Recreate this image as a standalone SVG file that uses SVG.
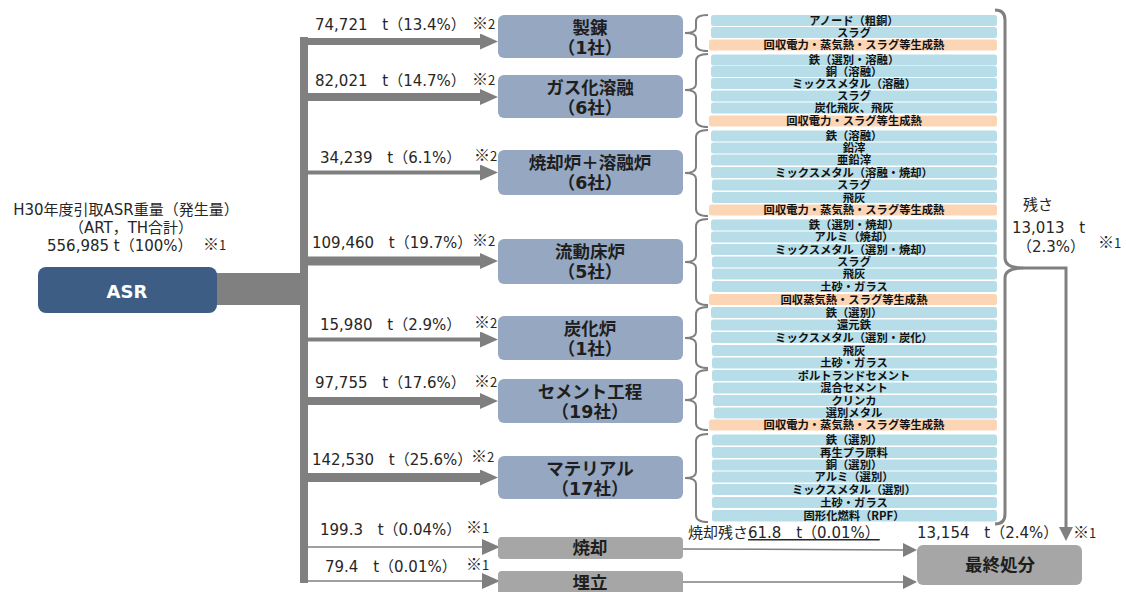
<svg xmlns="http://www.w3.org/2000/svg" width="1126" height="592" viewBox="0 0 1126 592">
<defs>
<marker id="ah" viewBox="0 0 18 16" markerWidth="18" markerHeight="16" refX="0" refY="8" orient="auto" markerUnits="userSpaceOnUse"><path d="M0,0 L18,8 L0,16 Z" fill="#7f7f7f"/></marker>
<marker id="ahs" viewBox="0 0 14 14" markerWidth="14" markerHeight="14" refX="0" refY="7" orient="auto" markerUnits="userSpaceOnUse"><path d="M0,0 L14,7 L0,14 Z" fill="#7f7f7f"/></marker>
</defs>
<style>
text{font-family:"DejaVu Sans","Noto Sans CJK JP",sans-serif}
.lbl{font-size:15px;fill:#262626;word-spacing:10px}
.lt{font-size:15px;fill:#262626}
.note{font-family:"Noto Sans CJK JP",sans-serif;font-size:16px;fill:#262626}
.nd{font-size:13px}
.box{fill:#95a7c1}
.gbox{fill:#a6a6a6}
.bt{font-weight:bold;font-size:17.5px;fill:#1e1e1e;text-anchor:middle}
.rb{fill:#b7dee8}
.ro{fill:#fcd5b5}
.rt{font-family:"Noto Sans CJK JP",sans-serif;font-weight:bold;font-size:11.3px;text-anchor:middle;fill:#111}
.br{fill:none;stroke:#808080;stroke-width:2}
.sh{stroke:#7f7f7f;fill:none}
</style>
<rect width="1126" height="592" fill="#ffffff"/>

<g id="connectors">
<rect x="215" y="273" width="90" height="32" fill="#808080"/>
<rect x="300" y="37" width="8" height="546" fill="#808080"/>
<line class="sh" x1="306" y1="41.5" x2="480" y2="41.5" stroke-width="7" marker-end="url(#ah)"/>
<line class="sh" x1="306" y1="97" x2="480" y2="97" stroke-width="8" marker-end="url(#ah)"/>
<line class="sh" x1="306" y1="172.5" x2="480" y2="172.5" stroke-width="4" marker-end="url(#ah)"/>
<line class="sh" x1="306" y1="261" x2="480" y2="261" stroke-width="9" marker-end="url(#ah)"/>
<line class="sh" x1="306" y1="339.5" x2="480" y2="339.5" stroke-width="4" marker-end="url(#ah)"/>
<line class="sh" x1="306" y1="401" x2="480" y2="401" stroke-width="8" marker-end="url(#ah)"/>
<line class="sh" x1="306" y1="477.5" x2="480" y2="477.5" stroke-width="9" marker-end="url(#ah)"/>
<line class="sh" x1="306" y1="547" x2="482" y2="547" stroke-width="1.5" marker-end="url(#ah)"/>
<line class="sh" x1="306" y1="581" x2="482" y2="581" stroke-width="1.5" marker-end="url(#ah)"/>
<line class="sh" x1="683" y1="549" x2="903" y2="550" stroke-width="1.5" marker-end="url(#ahs)"/>
<line class="sh" x1="683" y1="582" x2="903" y2="582" stroke-width="1.5" marker-end="url(#ahs)"/>
<path class="br" d="M708,15 Q696,15 696,21 L696,28 Q696,33 685,33 Q696,33 696,38 L696,45 Q696,51 708,51"/>
<path class="br" d="M708,54 Q696,54 696,61 L696,84 Q696,90 685,90 Q696,90 696,96 L696,120 Q696,127 708,127"/>
<path class="br" d="M708,130 Q696,130 696,137 L696,167 Q696,173 685,173 Q696,173 696,179 L696,209 Q696,216 708,216"/>
<path class="br" d="M708,219 Q696,219 696,226 L696,256 Q696,262 685,262 Q696,262 696,268 L696,298 Q696,305 708,305"/>
<path class="br" d="M708,307 Q696,307 696,314 L696,332 Q696,338 685,338 Q696,338 696,344 L696,361 Q696,368 708,368"/>
<path class="br" d="M708,370 Q696,370 696,377 L696,394 Q696,400 685,400 Q696,400 696,406 L696,423 Q696,430 708,430"/>
<path class="br" d="M708,434 Q696,434 696,441 L696,472 Q696,478 685,478 Q696,478 696,484 L696,515 Q696,522 708,522"/>
<path fill="none" stroke="#808080" stroke-width="3" d="M995,10 Q1005,10 1005,20 L1005,258 Q1005,268 1023,268 Q1005,268 1005,278 L1005,514 Q1005,524 995,524"/>
<polyline fill="none" stroke="#808080" stroke-width="3" points="1022,268 1066,268 1066,527"/>
<path d="M1059,527 L1073,527 L1066,541 Z" fill="#808080"/>
</g>

<g id="asr">
<rect x="38" y="267" width="179" height="46" rx="8" fill="#3e5d85"/>
<text x="127" y="298" text-anchor="middle" font-weight="bold" font-size="18" fill="#ffffff">ASR</text>
<text class="lt" x="126" y="215" text-anchor="middle">H30年度引取ASR重量（発生量）</text>
<text class="lt" x="131" y="233" text-anchor="middle">（ART，TH合計）</text>
<text class="lt" x="47" y="251">556,985 t（100%）</text>
<text class="note" x="203" y="250">※<tspan class="nd">1</tspan></text>
</g>

<g id="labels">
<text class="lbl" x="315" y="30">74,721 t（13.4%）</text><text class="note" x="472" y="29">※<tspan class="nd">2</tspan></text>
<text class="lbl" x="315" y="86">82,021 t（14.7%）</text><text class="note" x="472" y="85">※<tspan class="nd">2</tspan></text>
<text class="lbl" x="320" y="163">34,239 t（6.1%）</text><text class="note" x="474" y="161">※<tspan class="nd">2</tspan></text>
<text class="lbl" x="312" y="248">109,460 t（19.7%）</text><text class="note" x="472" y="246">※<tspan class="nd">2</tspan></text>
<text class="lbl" x="320" y="330">15,980 t（2.9%）</text><text class="note" x="474" y="328">※<tspan class="nd">2</tspan></text>
<text class="lbl" x="315" y="388">97,755 t（17.6%）</text><text class="note" x="474" y="387">※<tspan class="nd">2</tspan></text>
<text class="lbl" x="312" y="465">142,530 t（25.6%）</text><text class="note" x="471" y="462">※<tspan class="nd">2</tspan></text>
<text class="lbl" x="320" y="535">199.3 t（0.04%）</text><text class="note" x="466" y="533">※<tspan class="nd">1</tspan></text>
<text class="lbl" x="325" y="572">79.4 t（0.01%）</text><text class="note" x="466" y="570">※<tspan class="nd">1</tspan></text>
</g>

<g id="node-seiren"><rect class="box" x="498" y="15" width="185" height="43" rx="6"/><text class="bt" x="590" y="34">製錬</text><text class="bt" x="590" y="54">（1社）</text></g>
<g id="node-gas"><rect class="box" x="498" y="75" width="185" height="43" rx="6"/><text class="bt" x="590" y="94">ガス化溶融</text><text class="bt" x="590" y="114">（6社）</text></g>
<g id="node-shoukyaku-youyu"><rect class="box" x="498" y="150" width="185" height="45" rx="6"/><text class="bt" x="590" y="169">焼却炉＋溶融炉</text><text class="bt" x="590" y="189">（6社）</text></g>
<g id="node-ryudo"><rect class="box" x="498" y="239" width="185" height="45" rx="6"/><text class="bt" x="590" y="258">流動床炉</text><text class="bt" x="590" y="278">（5社）</text></g>
<g id="node-tanka"><rect class="box" x="498" y="316" width="185" height="44" rx="6"/><text class="bt" x="590" y="335">炭化炉</text><text class="bt" x="590" y="355">（1社）</text></g>
<g id="node-cement"><rect class="box" x="498" y="379" width="185" height="44" rx="6"/><text class="bt" x="590" y="398">セメント工程</text><text class="bt" x="590" y="418">（19社）</text></g>
<g id="node-material"><rect class="box" x="498" y="456" width="185" height="43" rx="6"/><text class="bt" x="590" y="475">マテリアル</text><text class="bt" x="590" y="495">（17社）</text></g>
<g id="node-shoukyaku"><rect class="gbox" x="498" y="537" width="185" height="22" rx="4"/><text class="bt" x="590" y="554">焼却</text></g>
<g id="node-umetate"><rect class="gbox" x="498" y="571" width="185" height="30" rx="4"/><text class="bt" x="590" y="589">埋立</text></g>
<g id="node-final"><rect class="gbox" x="917" y="545" width="165" height="40" rx="6"/><text class="bt" x="1000" y="571">最終処分</text></g>

<g id="residue-labels">
<text class="lt" x="1038" y="210" text-anchor="middle">残さ</text>
<text class="lbl" x="1012" y="233">13,013 t</text>
<text class="lt" x="1051" y="252" text-anchor="middle">（2.3%）</text>
<text class="note" x="1098" y="248">※<tspan class="nd">1</tspan></text>
<text class="lt" x="688" y="538">焼却残さ<tspan style="word-spacing:10px" text-decoration="underline">61.8 t（0.01%）</tspan></text>
<text class="lbl" x="917" y="538">13,154 t（2.4%）</text>
<text class="note" x="1073" y="538">※<tspan class="nd">1</tspan></text>
</g>

<g id="outputs">
<g id="out-seiren">
<rect class="rb" x="711" y="15" width="286" height="11" rx="2.5"/><text class="rt" x="854" y="24.5">アノード（粗銅）</text>
<rect class="rb" x="711" y="27" width="286" height="11" rx="2.5"/><text class="rt" x="854" y="36.5">スラグ</text>
<rect class="ro" x="709" y="39.5" width="288" height="11" rx="2.5"/><text class="rt" x="854" y="49">回収電力・蒸気熱・スラグ等生成熱</text>
</g>
<g id="out-gas">
<rect class="rb" x="711" y="54.5" width="286" height="11" rx="2.5"/><text class="rt" x="854" y="64">鉄（選別・溶融）</text>
<rect class="rb" x="711" y="66" width="286" height="11" rx="2.5"/><text class="rt" x="854" y="75.5">銅（溶融）</text>
<rect class="rb" x="711" y="78" width="286" height="11" rx="2.5"/><text class="rt" x="854" y="87.5">ミックスメタル（溶融）</text>
<rect class="rb" x="711" y="90.5" width="286" height="11" rx="2.5"/><text class="rt" x="854" y="100">スラグ</text>
<rect class="rb" x="711" y="102.5" width="286" height="11" rx="2.5"/><text class="rt" x="854" y="112">炭化飛灰、飛灰</text>
<rect class="ro" x="709" y="115.5" width="288" height="11" rx="2.5"/><text class="rt" x="854" y="125">回収電力・スラグ等生成熱</text>
</g>
<g id="out-shoukyaku-youyu">
<rect class="rb" x="711" y="130.5" width="286" height="11" rx="2.5"/><text class="rt" x="854" y="140">鉄（溶融）</text>
<rect class="rb" x="711" y="142.5" width="286" height="11" rx="2.5"/><text class="rt" x="854" y="152">鉛滓</text>
<rect class="rb" x="711" y="154.5" width="286" height="11" rx="2.5"/><text class="rt" x="854" y="164">亜鉛滓</text>
<rect class="rb" x="711" y="167" width="286" height="11" rx="2.5"/><text class="rt" x="854" y="176.5">ミックスメタル（溶融・焼却）</text>
<rect class="rb" x="712" y="179.5" width="285" height="11" rx="2.5"/><text class="rt" x="854" y="189">スラグ</text>
<rect class="rb" x="712" y="192" width="285" height="11" rx="2.5"/><text class="rt" x="854" y="201.5">飛灰</text>
<rect class="ro" x="709" y="204.5" width="288" height="11" rx="2.5"/><text class="rt" x="854" y="214">回収電力・蒸気熱・スラグ等生成熱</text>
</g>
<g id="out-ryudo">
<rect class="rb" x="711" y="219.5" width="286" height="11" rx="2.5"/><text class="rt" x="854" y="229">鉄（選別・焼却）</text>
<rect class="rb" x="711" y="231.5" width="286" height="11" rx="2.5"/><text class="rt" x="854" y="241">アルミ（焼却）</text>
<rect class="rb" x="711" y="244" width="286" height="11" rx="2.5"/><text class="rt" x="854" y="253.5">ミックスメタル（選別・焼却）</text>
<rect class="rb" x="712" y="256.5" width="285" height="11" rx="2.5"/><text class="rt" x="854" y="266">スラグ</text>
<rect class="rb" x="712" y="268.5" width="285" height="11" rx="2.5"/><text class="rt" x="854" y="278">飛灰</text>
<rect class="rb" x="712" y="281" width="285" height="11" rx="2.5"/><text class="rt" x="854" y="290.5">土砂・ガラス</text>
<rect class="ro" x="709" y="294" width="288" height="11" rx="2.5"/><text class="rt" x="854" y="303.5">回収蒸気熱・スラグ等生成熱</text>
</g>
<g id="out-tanka">
<rect class="rb" x="711" y="307" width="286" height="11" rx="2.5"/><text class="rt" x="854" y="316.5">鉄（選別）</text>
<rect class="rb" x="711" y="319.5" width="286" height="11" rx="2.5"/><text class="rt" x="854" y="329">還元鉄</text>
<rect class="rb" x="711" y="332" width="286" height="11" rx="2.5"/><text class="rt" x="854" y="341.5">ミックスメタル（選別・炭化）</text>
<rect class="rb" x="712" y="345" width="285" height="11" rx="2.5"/><text class="rt" x="854" y="354.5">飛灰</text>
<rect class="rb" x="712" y="357.5" width="285" height="11" rx="2.5"/><text class="rt" x="854" y="367">土砂・ガラス</text>
</g>
<g id="out-cement">
<rect class="rb" x="712" y="370" width="285" height="11" rx="2.5"/><text class="rt" x="854" y="379.5">ポルトランドセメント</text>
<rect class="rb" x="713" y="382.5" width="284" height="11" rx="2.5"/><text class="rt" x="854" y="392">混合セメント</text>
<rect class="rb" x="713" y="395" width="284" height="11" rx="2.5"/><text class="rt" x="854" y="404.5">クリンカ</text>
<rect class="rb" x="714" y="407.5" width="283" height="11" rx="2.5"/><text class="rt" x="854" y="417">選別メタル</text>
<rect class="ro" x="709" y="419.5" width="288" height="11" rx="2.5"/><text class="rt" x="854" y="429">回収電力・蒸気熱・スラグ等生成熱</text>
</g>
<g id="out-material">
<rect class="rb" x="712" y="434.5" width="285" height="11" rx="2.5"/><text class="rt" x="854" y="444">鉄（選別）</text>
<rect class="rb" x="712" y="447" width="285" height="11" rx="2.5"/><text class="rt" x="854" y="456.5">再生プラ原料</text>
<rect class="rb" x="712" y="459.5" width="285" height="11" rx="2.5"/><text class="rt" x="854" y="469">銅（選別）</text>
<rect class="rb" x="712" y="471.5" width="285" height="11" rx="2.5"/><text class="rt" x="854" y="481">アルミ（選別）</text>
<rect class="rb" x="712" y="484" width="285" height="11" rx="2.5"/><text class="rt" x="854" y="493.5">ミックスメタル（選別）</text>
<rect class="rb" x="712" y="497" width="285" height="11" rx="2.5"/><text class="rt" x="854" y="506.5">土砂・ガラス</text>
<rect class="rb" x="712" y="510" width="285" height="11.5" rx="2.5"/><text class="rt" x="854" y="519.5">固形化燃料（RPF）</text>
</g>
</g>
</svg>
